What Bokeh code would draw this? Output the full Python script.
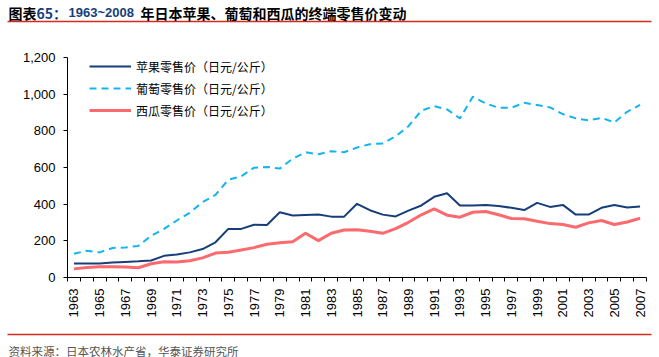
from math import pi

from bokeh.embed import file_html
from bokeh.layouts import column
from bokeh.models import (FixedTicker, Label, Legend, LegendItem,
                          NumeralTickFormatter, Range1d)
from bokeh.plotting import figure
from bokeh.resources import INLINE

# Retail prices in Japan, yen per kg, 1963-2007
years = list(range(1963, 2008))
apple = [77, 76, 77, 82, 85, 88, 93, 118, 125, 137, 155, 192, 265, 265, 288,
         286, 356, 338, 341, 344, 332, 332, 402, 367, 343, 333, 365, 393, 440,
         460, 393, 393, 395, 390, 380, 368, 407, 385, 396, 343, 343, 380, 395,
         382, 387]
grape = [130, 146, 137, 161, 164, 172, 228, 265, 311, 353, 411, 451, 533, 552,
         599, 603, 594, 648, 683, 672, 689, 683, 709, 727, 731, 770, 825, 910,
         935, 917, 868, 986, 950, 926, 926, 953, 941, 928, 891, 868, 857, 871,
         846, 904, 941]
melon = [47, 55, 58, 58, 57, 53, 75, 86, 84, 91, 107, 133, 138, 150, 163, 181,
         190, 195, 241, 201, 241, 259, 261, 252, 241, 267, 301, 342, 374, 340,
         329, 356, 360, 342, 322, 320, 307, 294, 289, 274, 298, 311, 289, 303,
         323]

series_names = ["苹果零售价（日元/公斤）", "葡萄零售价（日元/公斤）", "西瓜零售价（日元/公斤）"]
title_parts = ["图表", "65：", "1963~2008", "年日本苹果、葡萄和西瓜的终端零售价变动"]
source_text = "资料来源：日本农林水产省，华泰证券研究所"

CJK = "Noto Sans CJK SC"
NAVY = "#173E7A"
CYAN = "#13B5EE"
PINK = "#FA6A6E"
RED = "#D52B1E"

W = 659
HEAD_H, MAIN_H, FOOT_H = 26, 300, 31
LEFT, RIGHT, TOP, BOTTOM = 67, 13, 31, 49
FH = MAIN_H - TOP - BOTTOM


def strip(height):
    """A bare figure whose frame fills the whole strip, y measured downward."""
    f = figure(width=W, height=height, output_backend="svg",
               toolbar_location=None, x_axis_type=None, y_axis_type=None,
               x_range=Range1d(0, W), y_range=Range1d(height, 0))
    f.min_border = 0
    f.outline_line_color = None
    f.xgrid.visible = False
    f.ygrid.visible = False
    f.border_fill_color = "white"
    return f


# header: title text and a red rule
head = strip(HEAD_H)
title_specs = [
    (title_parts[0], 8, "black", CJK, "14px"),
    (title_parts[1], 36, NAVY, CJK, "14px"),
    (title_parts[2], 68, NAVY, "Liberation Sans", "13px"),
    (title_parts[3], 140, "black", CJK, "14px"),
]
for txt, px, col, font, size in title_specs:
    head.add_layout(Label(x=px, y=12, text=txt, text_color=col,
                          text_font=font, text_font_size=size,
                          text_font_style="bold", text_baseline="middle",
                          text_align="left"))
head.segment(x0=[7], y0=[21], x1=[651], y1=[21], line_color=RED, line_width=1.5)

# main chart
p = figure(width=W, height=MAIN_H, output_backend="svg", toolbar_location=None,
           x_range=Range1d(years[0] - 0.5, years[-1] + 0.5),
           y_range=Range1d(0, 1200),
           min_border_left=LEFT, min_border_right=RIGHT,
           min_border_top=TOP, min_border_bottom=BOTTOM)
p.outline_line_color = None
p.xgrid.visible = False
p.ygrid.visible = False
p.background_fill_color = "white"
p.border_fill_color = "white"

r_apple = p.line(years, apple, line_color=NAVY, line_width=2)
r_grape = p.line(years, grape, line_color=CYAN, line_width=2, line_dash="7 5")
r_melon = p.line(years, melon, line_color=PINK, line_width=3)

yax = p.yaxis[0]
yax.ticker = FixedTicker(ticks=[0, 200, 400, 600, 800, 1000, 1200])
yax.formatter = NumeralTickFormatter(format="0,0")
yax.major_tick_out = 4
yax.major_tick_in = 0
yax.minor_tick_out = 0
yax.minor_tick_in = 0
yax.major_label_standoff = 8
yax.major_label_text_font = "Liberation Sans"
yax.major_label_text_font_size = "13px"
yax.major_label_text_color = "black"
yax.axis_line_color = "black"
yax.major_tick_line_color = "black"

# year labels at centres, tick marks between years
xax = p.xaxis[0]
xax.ticker = FixedTicker(ticks=years,
                         minor_ticks=[y - 0.5 for y in years] + [years[-1] + 0.5])
xax.major_label_overrides = {y: (str(y) if y % 2 == 1 else "") for y in years}
xax.major_label_orientation = pi / 2
xax.major_tick_out = 0
xax.major_tick_in = 0
xax.minor_tick_out = 4
xax.minor_tick_in = 0
xax.minor_tick_line_color = "black"
xax.major_label_standoff = 7
xax.major_label_text_font = "Liberation Sans"
xax.major_label_text_font_size = "13px"
xax.major_label_text_color = "black"
xax.axis_line_color = "black"

legend = Legend(items=[LegendItem(label=series_names[0], renderers=[r_apple]),
                       LegendItem(label=series_names[1], renderers=[r_grape]),
                       LegendItem(label=series_names[2], renderers=[r_melon])],
                location=(22, FH - 63), orientation="vertical",
                glyph_width=42, glyph_height=20, label_height=20,
                label_standoff=5, spacing=2, padding=1, margin=0,
                border_line_color=None, background_fill_alpha=0,
                label_text_font=CJK, label_text_font_size="12px",
                label_text_color="black")
p.add_layout(legend)

# footer: red rule and source note
foot = strip(FOOT_H)
foot.segment(x0=[7], y0=[8], x1=[651], y1=[8], line_color=RED, line_width=1.5)
foot.add_layout(Label(x=8, y=24, text=source_text, text_color="#555555",
                      text_font=CJK, text_font_size="11.5px",
                      text_baseline="middle", text_align="left"))

# each strip sits in its own column so its frame keeps the full width
page = column(column(head, spacing=0), p, column(foot, spacing=0), spacing=0)
open("out.html", "w").write(file_html(page, INLINE))
